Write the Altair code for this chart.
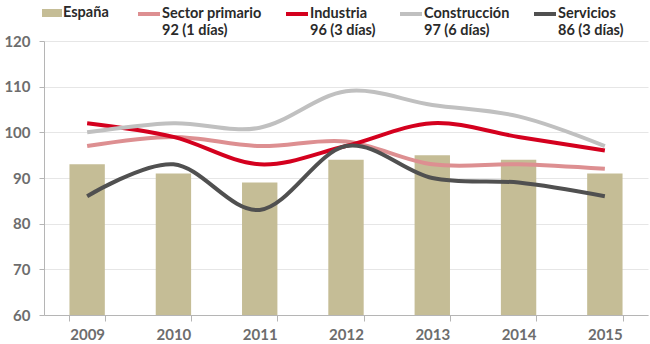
import altair as alt
import pandas as pd

years = ["2009", "2010", "2011", "2012", "2013", "2014", "2015"]
espana = [93, 91, 89, 94, 95, 94, 91]
series_names = ["Sector primario", "Industria", "Construcción", "Servicios"]
series_labels = {
    "Sector primario": "92 (1 días)",
    "Industria": "96 (3 días)",
    "Construcción": "97 (6 días)",
    "Servicios": "86 (3 días)",
}
primario = [97, 99, 97, 98, 93, 93, 92]
industria = [102, 99, 93, 97, 102, 99, 96]
construccion = [100, 102, 101, 109, 106, 103.5, 97]
servicios = [86, 93, 83, 97, 90, 89, 86]
y_ticks = [60, 70, 80, 90, 100, 110, 120]

line_colors = ["#dd8f91", "#d4001e", "#c0c0c0", "#505050"]
bar_color = "#c5bd96"

bars_df = pd.DataFrame({"year": years, "value": espana, "serie": ["España"] * len(years)})
rows = []
for name, vals in zip(series_names, [primario, industria, construccion, servicios]):
    for y, v in zip(years, vals):
        rows.append({"year": y, "value": v, "serie": name})
lines_df = pd.DataFrame(rows)

FONT = "Lato"
LEG_FS = 14.5

x_enc = alt.X(
    "year:N",
    sort=years,
    scale=alt.Scale(paddingInner=0.59, paddingOuter=0.295),
    axis=alt.Axis(
        title=None,
        labelAngle=0,
        tickBand="extent",
        grid=False,
        domainColor="#b5b5b5",
        tickColor="#b5b5b5",
        tickSize=6,
        labelFont=FONT,
        labelFontSize=15,
        labelFontWeight="bold",
        labelColor="#6d6d6d",
        labelPadding=6,
        zindex=1,
    ),
)
y_scale = alt.Scale(domain=[60, 120], nice=False, zero=False)
y_axis = alt.Axis(
    title=None,
    values=y_ticks,
    grid=True,
    gridColor="#e6e6e6",
    domainColor="#b5b5b5",
    tickColor="#b5b5b5",
    tickSize=5,
    labelFont=FONT,
    labelFontSize=15,
    labelFontWeight="bold",
    labelColor="#6d6d6d",
    labelPadding=9,
)

NBSP = "\u00a0"
label_expr = (
    "[datum.label, '" + NBSP + "' + "
    + "{"
    + ", ".join(f"'{k}': '{v}'" for k, v in series_labels.items())
    + "}[datum.label]]"
)

bars = alt.Chart(bars_df).mark_bar(color=bar_color, clip=True).encode(
    x=x_enc,
    y=alt.Y("value:Q", scale=y_scale, axis=y_axis),
    fill=alt.Fill(
        "serie:N",
        scale=alt.Scale(domain=["España"], range=[bar_color]),
        legend=alt.Legend(
            title=None,
            orient="none",
            legendX=-2,
            legendY=-38,
            symbolType="M-1,-0.4H1V0.4H-1Z",
            symbolSize=400,
            symbolStrokeWidth=0,
            labelFont=FONT,
            labelFontSize=LEG_FS,
            labelFontWeight="bold",
            labelColor="#2a2a2a",
            labelOffset=1,
            padding=0,
        ),
    ),
)

lines = alt.Chart(lines_df).mark_line(strokeWidth=4, interpolate="cardinal").encode(
    x=x_enc,
    y=alt.Y("value:Q", scale=y_scale, axis=y_axis),
    color=alt.Color(
        "serie:N",
        sort=series_names,
        scale=alt.Scale(domain=series_names, range=line_colors),
        legend=alt.Legend(
            title=None,
            orient="none",
            legendX=92,
            legendY=-40,
            direction="horizontal",
            columns=4,
            columnPadding=16,
            symbolType="stroke",
            symbolSize=484,
            symbolStrokeWidth=4,
            labelFont=FONT,
            labelFontSize=LEG_FS,
            labelFontWeight="bold",
            labelColor="#2a2a2a",
            labelExpr=label_expr,
            labelBaseline="middle",
            labelOffset=0,
            padding=0,
        ),
    ),
)

chart = (
    alt.layer(bars, lines)
    .resolve_scale(fill="independent", color="independent")
    .properties(
        width=604,
        height=274,
        autosize=alt.AutoSizeParams(type="none"),
        padding={"left": 44, "top": 41, "right": 2, "bottom": 29},
    )
    .configure_view(stroke=None)
)

chart.save("out.html", embed_options={"renderer": "svg", "actions": False})
